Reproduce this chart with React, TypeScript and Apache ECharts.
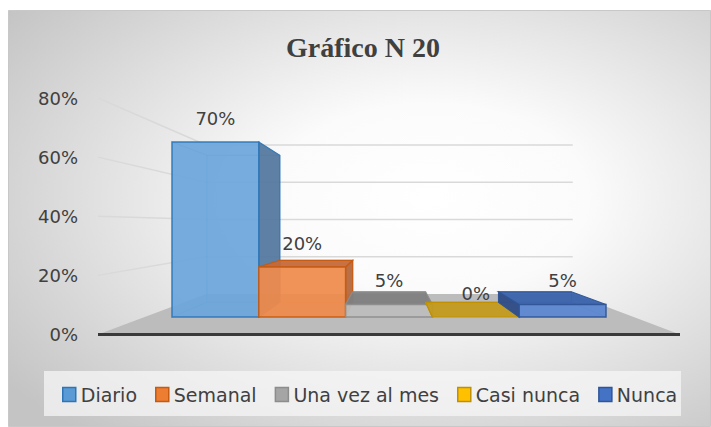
import React, { useEffect, useRef } from 'react';
import * as echarts from 'echarts';

const categories = ['Diario', 'Semanal', 'Una vez al mes', 'Casi nunca', 'Nunca'];
const values = [0.7, 0.2, 0.05, 0.0, 0.05];
const axisTicks = [0, 0.2, 0.4, 0.6, 0.8];
const titleText = 'Gráfico N 20';

const baseColors = ['#5b9bd5', '#ed7d31', '#a5a5a5', '#ffc000', '#4472c4'];
const frontColors = ['#6ca6db', '#ef8b4b', '#bdbdbd', '#ffc000', '#5a86d2'];
const edgeColors = ['#2e75b6', '#c55a11', '#8c8c8c', '#bf9000', '#2f5597'];
const sideColors = ['#54799f', '#b5683c', '#8a8a8a', '#b08a10', '#2d4b85'];
const topColors = ['#5a8cc0', '#c4693a', '#7f7f7f', '#c39a1c', '#3a62ac'];

const VP: number[] = [382, 215];
const BAR_DEPTH = 0.16;
const WALL_DEPTH = 0.37;
const FONT = 'DejaVu Sans';
const TEXT = '#404040';

function toward(p: number[], t: number): number[] {
  return [p[0] + (VP[0] - p[0]) * t, p[1] + (VP[1] - p[1]) * t];
}
const pct = (v: number) => Math.round(v * 100) + '%';

export default function App() {
  const ref = useRef<HTMLDivElement>(null);
  useEffect(() => {
    if (!ref.current) return;
    const chart = echarts.init(ref.current, undefined, { renderer: 'svg' });

    const wallSeries: any = {
      type: 'custom',
      xAxisIndex: 0,
      yAxisIndex: 0,
      silent: true,
      z: 1,
      data: axisTicks.map((v) => [0, v]),
      renderItem: (params: any, api: any) => {
        const v = api.value(1);
        const fl = api.coord([0, v]);
        const fr = api.coord([1, v]);
        const bl = toward(fl, WALL_DEPTH);
        const br = toward(fr, WALL_DEPTH);
        if (v === 0) {
          return {
            type: 'group',
            children: [
              { type: 'polygon', shape: { points: [fl, fr, br, bl] }, style: { fill: '#bcbcbc' } },
              {
                type: 'line',
                shape: { x1: fl[0], y1: fl[1], x2: fr[0], y2: fr[1] },
                style: { stroke: '#3a3a3a', lineWidth: 3 },
              },
            ],
          };
        }
        return {
          type: 'polyline',
          shape: { points: [fl, bl, [br[0], bl[1]]] },
          style: { stroke: '#d9d9d9', lineWidth: 1.4, fill: null },
        };
      },
    };

    const barSeries: any[] = categories.map((name, k) => ({
      type: 'custom',
      name,
      xAxisIndex: 1,
      yAxisIndex: 1,
      z: 3,
      data: [[k, values[k]]],
      itemStyle: { color: baseColors[k], borderColor: edgeColors[k], borderWidth: 1.5 },
      renderItem: (params: any, api: any) => {
        const i = api.value(0);
        const v = api.value(1);
        const c0 = api.coord([i, 0]);
        const c1 = api.coord([i, v]);
        const w = api.size([1, 0])[0];
        const x0 = c0[0] - w / 2;
        const x1 = c0[0] + w / 2;
        const yb = c0[1];
        const yt = c1[1];
        const flt = [x0, yt], frt = [x1, yt], frb = [x1, yb], flb = [x0, yb];
        const blt = toward(flt, BAR_DEPTH), brt = toward(frt, BAR_DEPTH);
        const brb = toward(frb, BAR_DEPTH), blb = toward(flb, BAR_DEPTH);
        const edge = edgeColors[k];
        const hidden = { stroke: edge, lineWidth: 1, opacity: 0.45, fill: null };
        const children: any[] = [];
        children.push({ type: 'polygon', shape: { points: [blt, brt, brb, blb] }, style: hidden });
        children.push({ type: 'line', shape: { x1: flb[0], y1: flb[1], x2: blb[0], y2: blb[1] }, style: hidden });
        children.push({ type: 'line', shape: { x1: flt[0], y1: flt[1], x2: blt[0], y2: blt[1] }, style: hidden });
        children.push({ type: 'line', shape: { x1: frb[0], y1: frb[1], x2: brb[0], y2: brb[1] }, style: hidden });
        if (x1 < VP[0]) {
          children.push({
            type: 'polygon',
            shape: { points: [frt, brt, brb, frb] },
            style: { fill: sideColors[k], stroke: edge, lineWidth: 1.2, opacity: 0.95 },
          });
        }
        if (x0 > VP[0]) {
          children.push({
            type: 'polygon',
            shape: { points: [flt, blt, blb, flb] },
            style: { fill: sideColors[k], stroke: edge, lineWidth: 1.2, opacity: 0.95 },
          });
        }
        if (yt > VP[1]) {
          children.push({
            type: 'polygon',
            shape: { points: [flt, frt, brt, blt] },
            style: { fill: topColors[k], stroke: edge, lineWidth: 1.2, opacity: 0.95 },
          });
        }
        if (v > 0) {
          children.push({
            type: 'polygon',
            shape: { points: [flt, frt, frb, flb] },
            style: { fill: frontColors[k], stroke: edge, lineWidth: 1.5, opacity: 0.93 },
          });
        }
        children.push({
          type: 'text',
          style: {
            text: pct(v),
            x: c0[0],
            y: yt - 24,
            align: 'center',
            verticalAlign: 'middle',
            fill: TEXT,
            font: `18px "${FONT}"`,
          },
        });
        return { type: 'group', children };
      },
    }));

    chart.setOption({
      animation: false,
      graphic: [
        {
          type: 'rect',
          z: -10,
          silent: true,
          shape: { x: 0.5, y: 0.5, width: 702, height: 416 },
          style: {
            fill: {
              type: 'radial',
              x: 0.6,
              y: 0.45,
              r: 0.75,
              colorStops: [
                { offset: 0, color: '#ffffff' },
                { offset: 0.3, color: '#fbfbfb' },
                { offset: 1, color: '#c4c4c4' },
              ],
            },
            stroke: '#c8c8c8',
            lineWidth: 1,
          },
        },
        {
          type: 'rect',
          z: -5,
          silent: true,
          shape: { x: 36, y: 361, width: 637, height: 45 },
          style: { fill: 'rgba(245,245,245,0.75)' },
        },
        {
          type: 'text',
          z: 5,
          x: 355,
          y: 37,
          style: {
            text: titleText,
            align: 'center',
            verticalAlign: 'middle',
            fill: TEXT,
            font: 'bold 28px "Liberation Serif"',
          },
        },
      ],
      legend: {
        left: 54,
        top: 375,
        padding: 0,
        icon: 'rect',
        itemWidth: 13,
        itemHeight: 14,
        itemGap: 18,
        textStyle: { fontSize: 19, color: TEXT, fontFamily: FONT },
        data: categories.map((n, k) => ({
          name: n,
          itemStyle: { color: baseColors[k], borderColor: edgeColors[k], borderWidth: 1.5 },
        })),
      },
      grid: [
        { left: 90, right: 31, top: 88, height: 236.5 },
        { left: 164, right: 105, top: 107, height: 200 },
      ],
      xAxis: [
        { type: 'value', gridIndex: 0, min: 0, max: 1, show: false },
        { type: 'category', gridIndex: 1, data: categories, show: false, boundaryGap: true },
      ],
      yAxis: [
        {
          type: 'value',
          gridIndex: 0,
          min: 0,
          max: 0.8,
          interval: 0.2,
          axisLine: { show: false },
          axisTick: { show: false },
          splitLine: { show: false },
          axisLabel: {
            margin: 20,
            fontSize: 18,
            color: TEXT,
            fontFamily: FONT,
            formatter: (v: number) => pct(v),
          },
        },
        { type: 'value', gridIndex: 1, min: 0, max: 0.8, show: false },
      ],
      series: [wallSeries, ...barSeries],
    });
    return () => chart.dispose();
  }, []);
  return (
    <div
      ref={ref}
      style={{ position: 'absolute', left: 8, top: 10, width: 703, height: 417 }}
    />
  );
}
